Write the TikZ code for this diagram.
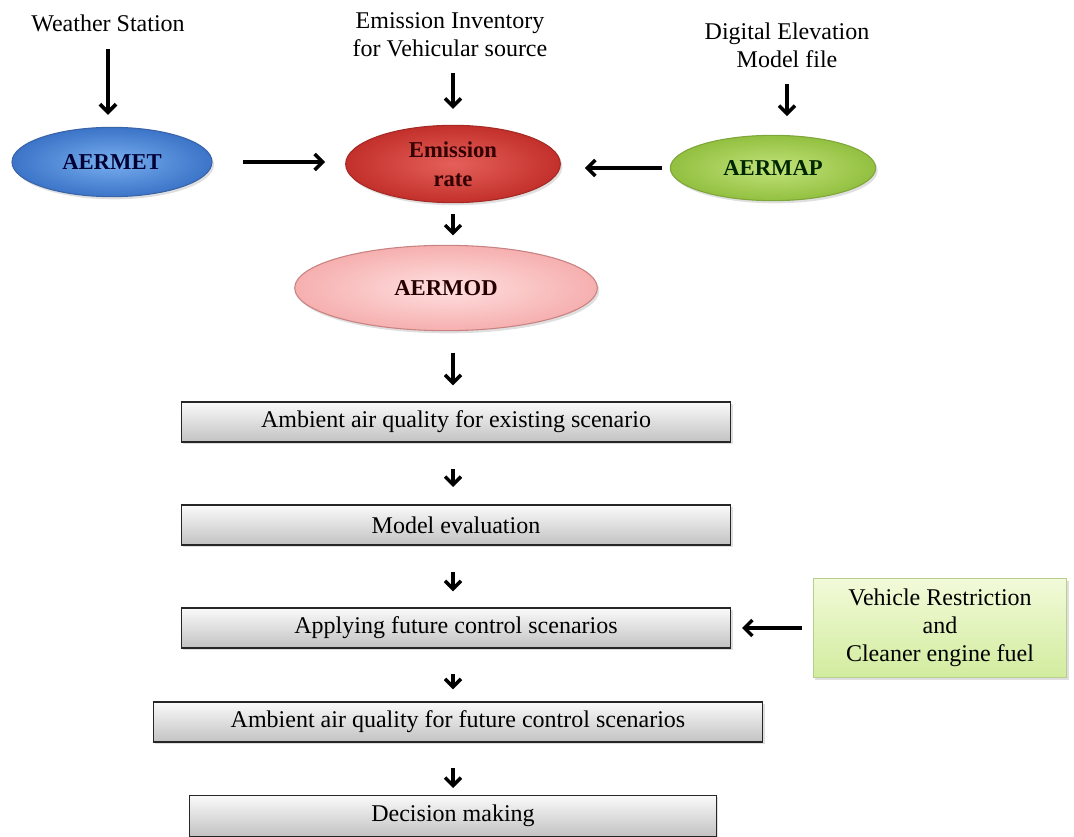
\documentclass[tikz,border=0pt]{standalone}
\usepackage{fontspec}
\setmainfont{Liberation Serif}
\usetikzlibrary{shapes.geometric,arrows.meta,shadows}

\definecolor{metIn}{HTML}{78AEEE}
\definecolor{metOut}{HTML}{3C74C8}
\definecolor{metLine}{HTML}{3A64A8}
\definecolor{emIn}{HTML}{E5605A}
\definecolor{emOut}{HTML}{C3302B}
\definecolor{emLine}{HTML}{A52A26}
\definecolor{mapIn}{HTML}{C2E27A}
\definecolor{mapOut}{HTML}{92C040}
\definecolor{mapLine}{HTML}{7FA63A}
\definecolor{modIn}{HTML}{FFE0E0}
\definecolor{modOut}{HTML}{F6AFAF}
\definecolor{modLine}{HTML}{C98282}
\definecolor{boxTop}{HTML}{FAFAFA}
\definecolor{boxBot}{HTML}{C2C2C2}
\definecolor{noteTop}{HTML}{F2FAD9}
\definecolor{noteBot}{HTML}{D2EC9E}
\definecolor{noteLine}{HTML}{B7CF8C}

\tikzset{
  lbl/.style={font=\fontsize{18}{21}\selectfont, align=center, inner sep=0pt},
  oval/.style={ellipse, inner sep=0pt, line width=0.8pt, align=center,
    font=\fontsize{17}{22}\selectfont\bfseries,
    drop shadow={opacity=0.25, shadow xshift=1.5pt, shadow yshift=-2pt}},
  stagebox/.style={rectangle, draw=black!85, line width=1pt, inner sep=0pt,
    minimum height=30pt, top color=boxTop, bottom color=boxBot,
    font=\fontsize{18}{21}\selectfont,
    drop shadow={opacity=0.25, shadow xshift=1.5pt, shadow yshift=-1.5pt}},
  flowarrow/.style={line width=2.6pt, -{Straight Barb[length=6pt, width=12pt]}},
}

\begin{document}
\begin{tikzpicture}[x=0.75pt, y=-0.75pt]
\useasboundingbox (0,0) rectangle (1074,837);

% data sources
\node[lbl] (ws) at (108,23) {Weather Station};
\node[lbl] (ei) at (450,35) {Emission Inventory\\for Vehicular source};
\node[lbl] (dem) at (787,45) {Digital Elevation\\Model file};

% pre-processors and emission node
\node[oval, minimum width=150pt, minimum height=52pt, draw=metLine,
      inner color=metIn, outer color=metOut, text=black!80!blue]
      (aermet) at (112,162) {AERMET};
\node[oval, minimum width=161pt, minimum height=58pt, draw=emLine,
      inner color=emIn, outer color=emOut, text=black!80!red]
      (emis) at (453,164) {Emission\\rate};
\node[oval, minimum width=154pt, minimum height=49pt, draw=mapLine,
      inner color=mapIn, outer color=mapOut, text=black!85!green]
      (aermap) at (773,168) {AERMAP};

% dispersion model
\node[oval, minimum width=227pt, minimum height=64pt, draw=modLine,
      inner color=modIn, outer color=modOut, text=black!85!red]
      (aermod) at (446,288) {AERMOD};

% processing stages
\node[stagebox, minimum width=412pt] (s1) at (456,422) {Ambient air quality for existing scenario};
\node[stagebox, minimum width=412pt] (s2) at (456,525) {Model evaluation};
\node[stagebox, minimum width=412pt] (s3) at (456,628) {Applying future control scenarios};
\node[stagebox, minimum width=457pt] (s4) at (458,722) {Ambient air quality for future control scenarios};
\node[stagebox, minimum width=395pt, minimum height=31pt] (s5) at (453,816) {Decision making};

% control measures
\node[rectangle, draw=noteLine, line width=0.6pt, top color=noteTop, bottom color=noteBot,
      minimum width=190pt, minimum height=74pt, align=center, inner sep=0pt,
      font=\fontsize{18}{21}\selectfont,
      drop shadow={opacity=0.25, shadow xshift=1.5pt, shadow yshift=-2pt}]
      (ctrl) at (940,628) {Vehicle Restriction\\and\\Cleaner engine fuel};

% connectors
\draw[flowarrow, line width=2.8pt, shorten <=13pt, shorten >=9pt] (ws.south) -- (ws.south |- aermet.north);
\draw[flowarrow, shorten <=12pt, shorten >=12pt] (ei.south -| emis.north) -- (emis.north);
\draw[flowarrow, shorten <=12pt, shorten >=14pt] (dem.south) -- (dem.south |- aermap.north);
\draw[flowarrow, shorten <=23pt, shorten >=15pt] (aermet.east) -- (aermet.east -| emis.west);
\draw[flowarrow, shorten <=6pt, shorten >=18pt] (aermap.west) -- (aermap.west -| emis.east);
\draw[flowarrow, shorten <=8pt, shorten >=7pt] (emis.south) -- (emis.south |- aermod.north);
\draw[flowarrow, shorten <=16pt, shorten >=12pt] (aermod.south -| emis.south) -- (emis.south |- s1.north);
\draw[flowarrow, shorten <=20pt, shorten >=13pt] (s1.south -| emis.south) -- (emis.south |- s2.north);
\draw[flowarrow, shorten <=20pt, shorten >=12pt] (s2.south -| emis.south) -- (emis.south |- s3.north);
\draw[flowarrow, shorten <=19pt, shorten >=9pt] (s3.south -| emis.south) -- (emis.south |- s4.north);
\draw[flowarrow, shorten <=19pt, shorten >=5pt] (s4.south -| emis.south) -- (emis.south |- s5.north);
\draw[flowarrow, shorten <=8pt, shorten >=8pt] (ctrl.west) -- (ctrl.west -| s3.east);
\end{tikzpicture}
\end{document}
